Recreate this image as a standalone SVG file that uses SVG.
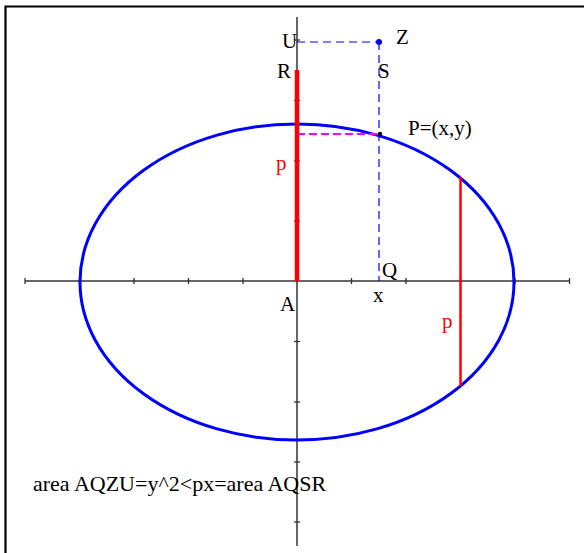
<svg xmlns="http://www.w3.org/2000/svg" width="584" height="553" viewBox="0 0 584 553">
<style>
text{font-family:"Liberation Serif","Times New Roman",serif;font-size:21px;fill:#000}
.red{fill:#ff0000}
.axis{stroke:#333;stroke-width:1.5;fill:none}
.tick{stroke:#333;stroke-width:1.3}
.dash{stroke:#0000ff;stroke-width:1.2;stroke-dasharray:8 5;fill:none}
</style>
<rect width="584" height="553" fill="#fff"/>
<g id="frame" stroke="#000" stroke-width="2.2" fill="none">
<path d="M5.5 553V6.5H584"/>
</g>
<g id="axes">
<line class="axis" x1="25" y1="281" x2="570" y2="281"/>
<line class="axis" x1="297" y1="17" x2="297" y2="546"/>
<g class="tick">
<line x1="25" y1="278" x2="25" y2="284"/>
<line x1="79.5" y1="278" x2="79.5" y2="284"/>
<line x1="134" y1="278" x2="134" y2="284"/>
<line x1="188.5" y1="278" x2="188.5" y2="284"/>
<line x1="243" y1="278" x2="243" y2="284"/>
<line x1="351.5" y1="278" x2="351.5" y2="284"/>
<line x1="406" y1="278" x2="406" y2="284"/>
<line x1="460.5" y1="278" x2="460.5" y2="284"/>
<line x1="515" y1="278" x2="515" y2="284"/>
<line x1="569.5" y1="278" x2="569.5" y2="284"/>
<line x1="294" y1="40" x2="300" y2="40"/>
<line x1="294" y1="100.5" x2="300" y2="100.5"/>
<line x1="294" y1="161" x2="300" y2="161"/>
<line x1="294" y1="221" x2="300" y2="221"/>
<line x1="294" y1="341.5" x2="300" y2="341.5"/>
<line x1="294" y1="402" x2="300" y2="402"/>
<line x1="294" y1="462" x2="300" y2="462"/>
<line x1="294" y1="522" x2="300" y2="522"/>
</g>
</g>
<g id="ellipse">
<ellipse cx="297" cy="282" rx="217" ry="158" fill="none" stroke="#0000ff" stroke-width="3"/>
</g>
<g id="connectors">
<line class="dash" x1="297" y1="42" x2="379" y2="42"/>
<line class="dash" x1="379" y1="42" x2="379" y2="281"/>
<line x1="297" y1="134" x2="380" y2="134" stroke="#ff00ff" stroke-width="2" stroke-dasharray="8 4"/>
<line x1="297" y1="70" x2="297" y2="281" stroke="#ff0000" stroke-width="4.5"/>
<line x1="460.5" y1="177" x2="460.5" y2="386" stroke="#ff0000" stroke-width="2.5"/>
</g>
<g id="Z"><circle cx="379" cy="42" r="3" fill="#0000ff"/><text x="396" y="44">Z</text></g>
<g id="U"><text x="282" y="48">U</text></g>
<g id="R"><text x="277" y="78">R</text></g>
<g id="S"><text x="378" y="78">S</text></g>
<g id="P"><circle cx="380" cy="134" r="2.2" fill="#000"/><text x="408" y="135">P=(x,y)</text></g>
<g id="p1"><text class="red" x="276" y="170">p</text></g>
<g id="p2"><text class="red" x="442" y="328">p</text></g>
<g id="Q"><text x="382" y="277">Q</text></g>
<g id="A"><text x="280" y="311">A</text></g>
<g id="x"><text x="373" y="302">x</text></g>
<g id="caption"><text x="33" y="491" style="font-size:22px">area AQZU=y^2&lt;px=area AQSR</text></g>
</svg>
